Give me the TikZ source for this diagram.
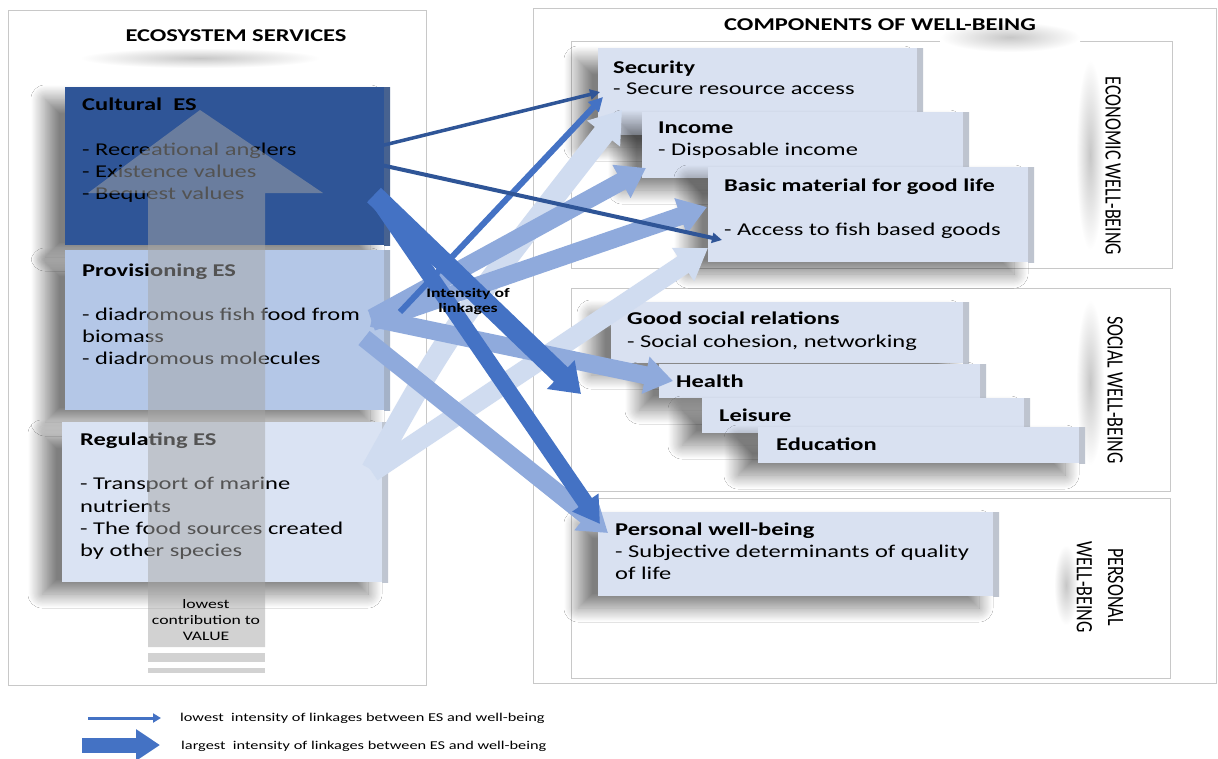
\documentclass[tikz,border=0pt]{standalone}
\usepackage{fontspec}
\setmainfont{Carlito}[FakeStretch=1.36]
\newfontfamily\vfont{Carlito}
\usetikzlibrary{arrows.meta,shadows.blur}
\definecolor{navy}{HTML}{2F5597}
\definecolor{midblue}{HTML}{4472C4}
\definecolor{lightblue}{HTML}{8FAADC}
\definecolor{paleblue}{HTML}{D0DCF0}
\definecolor{provfill}{HTML}{B4C7E7}
\definecolor{regfill}{HTML}{DAE3F3}
\definecolor{rboxfill}{HTML}{D9E1F1}
\definecolor{framegray}{HTML}{C8C8C8}
\definecolor{arrgray}{HTML}{A6A6A6}
\tikzset{
  frame/.style={draw=framegray, line width=0.8pt},
  bevel/.style={path picture={\shade[left color=#1, right color=#1!70!gray]
      ([xshift=-6pt]path picture bounding box.north east) rectangle (path picture bounding box.south east);}},
  boxbase/.style={anchor=north west, inner sep=0pt, outer sep=0pt,
      blur shadow={shadow xshift=-20pt, shadow yshift=-12pt, shadow blur radius=14pt, shadow blur steps=30, shadow opacity=50}},
  lbox/.style={boxbase, fill=#1, bevel=#1},
  rbox/.style={boxbase, fill=rboxfill, bevel=rboxfill},
  tx/.style={inner sep=0pt, anchor=base west, font=\fontsize{18}{22}\selectfont, text=black},
  tb/.style={tx, font=\fontsize{18}{22}\selectfont\bfseries},
  vlab/.style={inner sep=0pt, rotate=-90, yscale=1.3, align=center, font=\vfont\fontsize{18}{24}\selectfont, text=black},
  softsh/.style={inner color=black!22, outer color=white},
  grayarrow/.style={fill=arrgray, fill opacity=0.5},
  thinlink/.style={draw=navy, line width=#1, -{Triangle[length=10pt, width=10pt]}},
}
\begin{document}
\begin{tikzpicture}[x=1pt, y=-1pt]
\useasboundingbox[fill=white] (0,0) rectangle (1218,758);

% frames
\draw[frame] (8,10) rectangle (426,685);
\draw[frame] (533,8) rectangle (1216,683);
\draw[frame] (571,41) rectangle (1172,268);
\draw[frame] (571,288) rectangle (1170,491);
\draw[frame] (571,498) rectangle (1170,678);

% soft title / label shadows
\shade[softsh] (80,48) rectangle (320,68);
\shade[softsh] (940,22) rectangle (1080,52);
\shade[softsh] (1076,60) rectangle (1104,250);
\shade[softsh] (1076,300) rectangle (1104,465);
\shade[softsh] (1054,545) rectangle (1078,625);

% titles
\node[tb, anchor=base] (es-title) at (236,41) {ECOSYSTEM SERVICES};
\node[tb, anchor=base] (cw-title) at (880,30) {COMPONENTS OF WELL-BEING};

% left boxes
\node[lbox=navy, minimum width=325pt, minimum height=158pt] (cul) at (65,87) {};
\node[lbox=provfill, minimum width=325pt, minimum height=160pt] (prov) at (65,250) {};
\node[lbox=regfill, minimum width=326pt, minimum height=160pt] (reg) at (62,422) {};

\node[tb] (cul-t) at (82,110) {Cultural~ ES};
\node[tx] (cul-1) at (82,155) {- Recreational anglers};
\node[tx] (cul-2) at (82,177) {- Existence values};
\node[tx] (cul-3) at (82,199) {- Bequest values};

\node[tb] (prov-t) at (82,276) {Provisioning ES};
\node[tx] (prov-1) at (82,320) {- diadromous fish food from};
\node[tx] (prov-2) at (82,342) {biomass};
\node[tx] (prov-3) at (82,364) {- diadromous molecules};

\node[tb] (reg-t) at (80,445) {Regulating ES};
\node[tx] (reg-1) at (80,489) {- Transport of marine};
\node[tx] (reg-2) at (80,512) {nutrients};
\node[tx] (reg-3) at (80,534) {- The food sources created};
\node[tx] (reg-4) at (80,556) {by other species};

% big gray value arrow
\fill[grayarrow] (200,110) -- (323,193) -- (265,193) -- (265,647) -- (148,647) -- (148,193) -- (88,193) -- cycle;
\fill[grayarrow] (148,653) rectangle (265,662);
\fill[grayarrow] (148,668) rectangle (265,673);
\node[inner sep=0pt, align=center, font=\fontsize{13}{16}\selectfont] (val) at (206,620) {lowest\\contribution to\\VALUE};

% right boxes
\node[rbox, minimum width=325pt, minimum height=87pt] (sec) at (598,48) {};
\node[rbox, minimum width=327pt, minimum height=66pt] (inc) at (642,112) {};
\node[rbox, minimum width=326pt, minimum height=95pt] (bas) at (708,167) {};
\node[rbox, minimum width=358pt, minimum height=61pt] (gsr) at (611,302) {};
\node[rbox, minimum width=327pt, minimum height=34pt] (hea) at (659,364) {};
\node[rbox, minimum width=328pt, minimum height=35pt] (lei) at (702,398) {};
\node[rbox, minimum width=327pt, minimum height=36pt] (edu) at (758,427) {};
\node[rbox, minimum width=401pt, minimum height=84pt] (pwb) at (598,512) {};

\node[tb] (sec-t) at (613,73) {Security};
\node[tx] (sec-1) at (613,94) {- Secure resource access};
\node[tb] (inc-t) at (658,133) {Income};
\node[tx] (inc-1) at (658,155) {- Disposable income};
\node[tb] (bas-t) at (724,191) {Basic material for good life};
\node[tx] (bas-1) at (724,235) {- Access to fish based goods};
\node[tb] (gsr-t) at (627,324) {Good social relations};
\node[tx] (gsr-1) at (627,347) {- Social cohesion, networking};
\node[tb] (hea-t) at (676,387) {Health};
\node[tb] (lei-t) at (719,421) {Leisure};
\node[tb] (edu-t) at (776,450) {Education};
\node[tb] (pwb-t) at (615,535) {Personal well-being};
\node[tx] (pwb-1) at (615,557) {- Subjective determinants of quality};
\node[tx] (pwb-2) at (615,579) {of life};

% vertical labels
\node[vlab] (econ-l) at (1113,166) {ECONOMIC WELL-BEING};
\node[vlab] (soc-l) at (1115,390) {SOCIAL WELL-BEING};
\node[vlab] (pers-l) at (1100,587) {PERSONAL\\WELL-BEING};

% link end points
\coordinate (t1s) at (372,148); \coordinate (t1e) at (600,92);
\coordinate (t2s) at (372,163); \coordinate (t2e) at (722,240);
\coordinate (m3s) at (400,312); \coordinate (m3e) at (603,97);
\coordinate (dAs) at (374,195); \coordinate (dAe) at (581,394);
\coordinate (dBs) at (378,200); \coordinate (dBe) at (600,524);
\coordinate (l5s) at (372,318); \coordinate (l5e) at (646,168);
\coordinate (l6s) at (372,322); \coordinate (l6e) at (707,207);
\coordinate (l7s) at (372,318); \coordinate (l7e) at (673,381);
\coordinate (l8s) at (364,338); \coordinate (l8e) at (608,533);
\coordinate (v9s) at (372,470); \coordinate (v9e) at (622,110);
\coordinate (v10s) at (372,472); \coordinate (v10e) at (708,248);

% very light links (regulating)
\draw[draw=paleblue, line width=22pt, -{Triangle[length=30pt, width=40pt]}] (v9s) .. controls (450,330) .. (v9e);
\draw[draw=paleblue, line width=20pt, -{Triangle[length=30pt, width=38pt]}] (v10s) -- (v10e);
% light links (provisioning)
\draw[draw=lightblue, line width=18pt, -{Triangle[length=28pt, width=36pt]}] (l5s) -- (l5e);
\draw[draw=lightblue, line width=18pt, -{Triangle[length=28pt, width=36pt]}] (l6s) -- (l6e);
\draw[draw=lightblue, line width=18pt, -{Triangle[length=28pt, width=36pt]}] (l7s) -- (l7e);
\draw[draw=lightblue, line width=18pt, -{Triangle[length=28pt, width=36pt]}] (l8s) -- (l8e);
% thick dark links (cultural)
\draw[draw=midblue, line width=20pt, -{Triangle[length=28pt, width=38pt]}] (dAs) -- (dAe);
\draw[draw=midblue, line width=16pt, -{Triangle[length=26pt, width=30pt]}] (dBs) -- (dBe);
% thin links
\draw[draw=midblue, line width=6pt, -{Triangle[length=14pt, width=14pt]}] (m3s) -- (m3e);
\draw[thinlink=3.5pt] (t1s) -- (t1e);
\draw[thinlink=4pt] (t2s) -- (t2e);

\node[inner sep=0pt, align=center, font=\fontsize{13}{15}\selectfont\bfseries] (intens) at (468,302) {Intensity of\\linkages};

% legend
\coordinate (lg1a) at (88,718); \coordinate (lg1b) at (161,718);
\coordinate (lg2a) at (82,745); \coordinate (lg2b) at (160,745);
\draw[draw=midblue, line width=3pt, -{Triangle[length=8pt, width=9pt]}] (lg1a) -- (lg1b);
\draw[draw=midblue, line width=15pt, -{Triangle[length=24pt, width=30pt]}] (lg2a) -- (lg2b);
\node[inner sep=0pt, anchor=base west, font=\fontsize{12}{14}\selectfont] (lg1t) at (180,721) {lowest~ intensity of linkages between ES and well-being};
\node[inner sep=0pt, anchor=base west, font=\fontsize{12}{14}\selectfont] (lg2t) at (181,749) {largest~ intensity of linkages between ES and well-being};
\end{tikzpicture}
\end{document}
